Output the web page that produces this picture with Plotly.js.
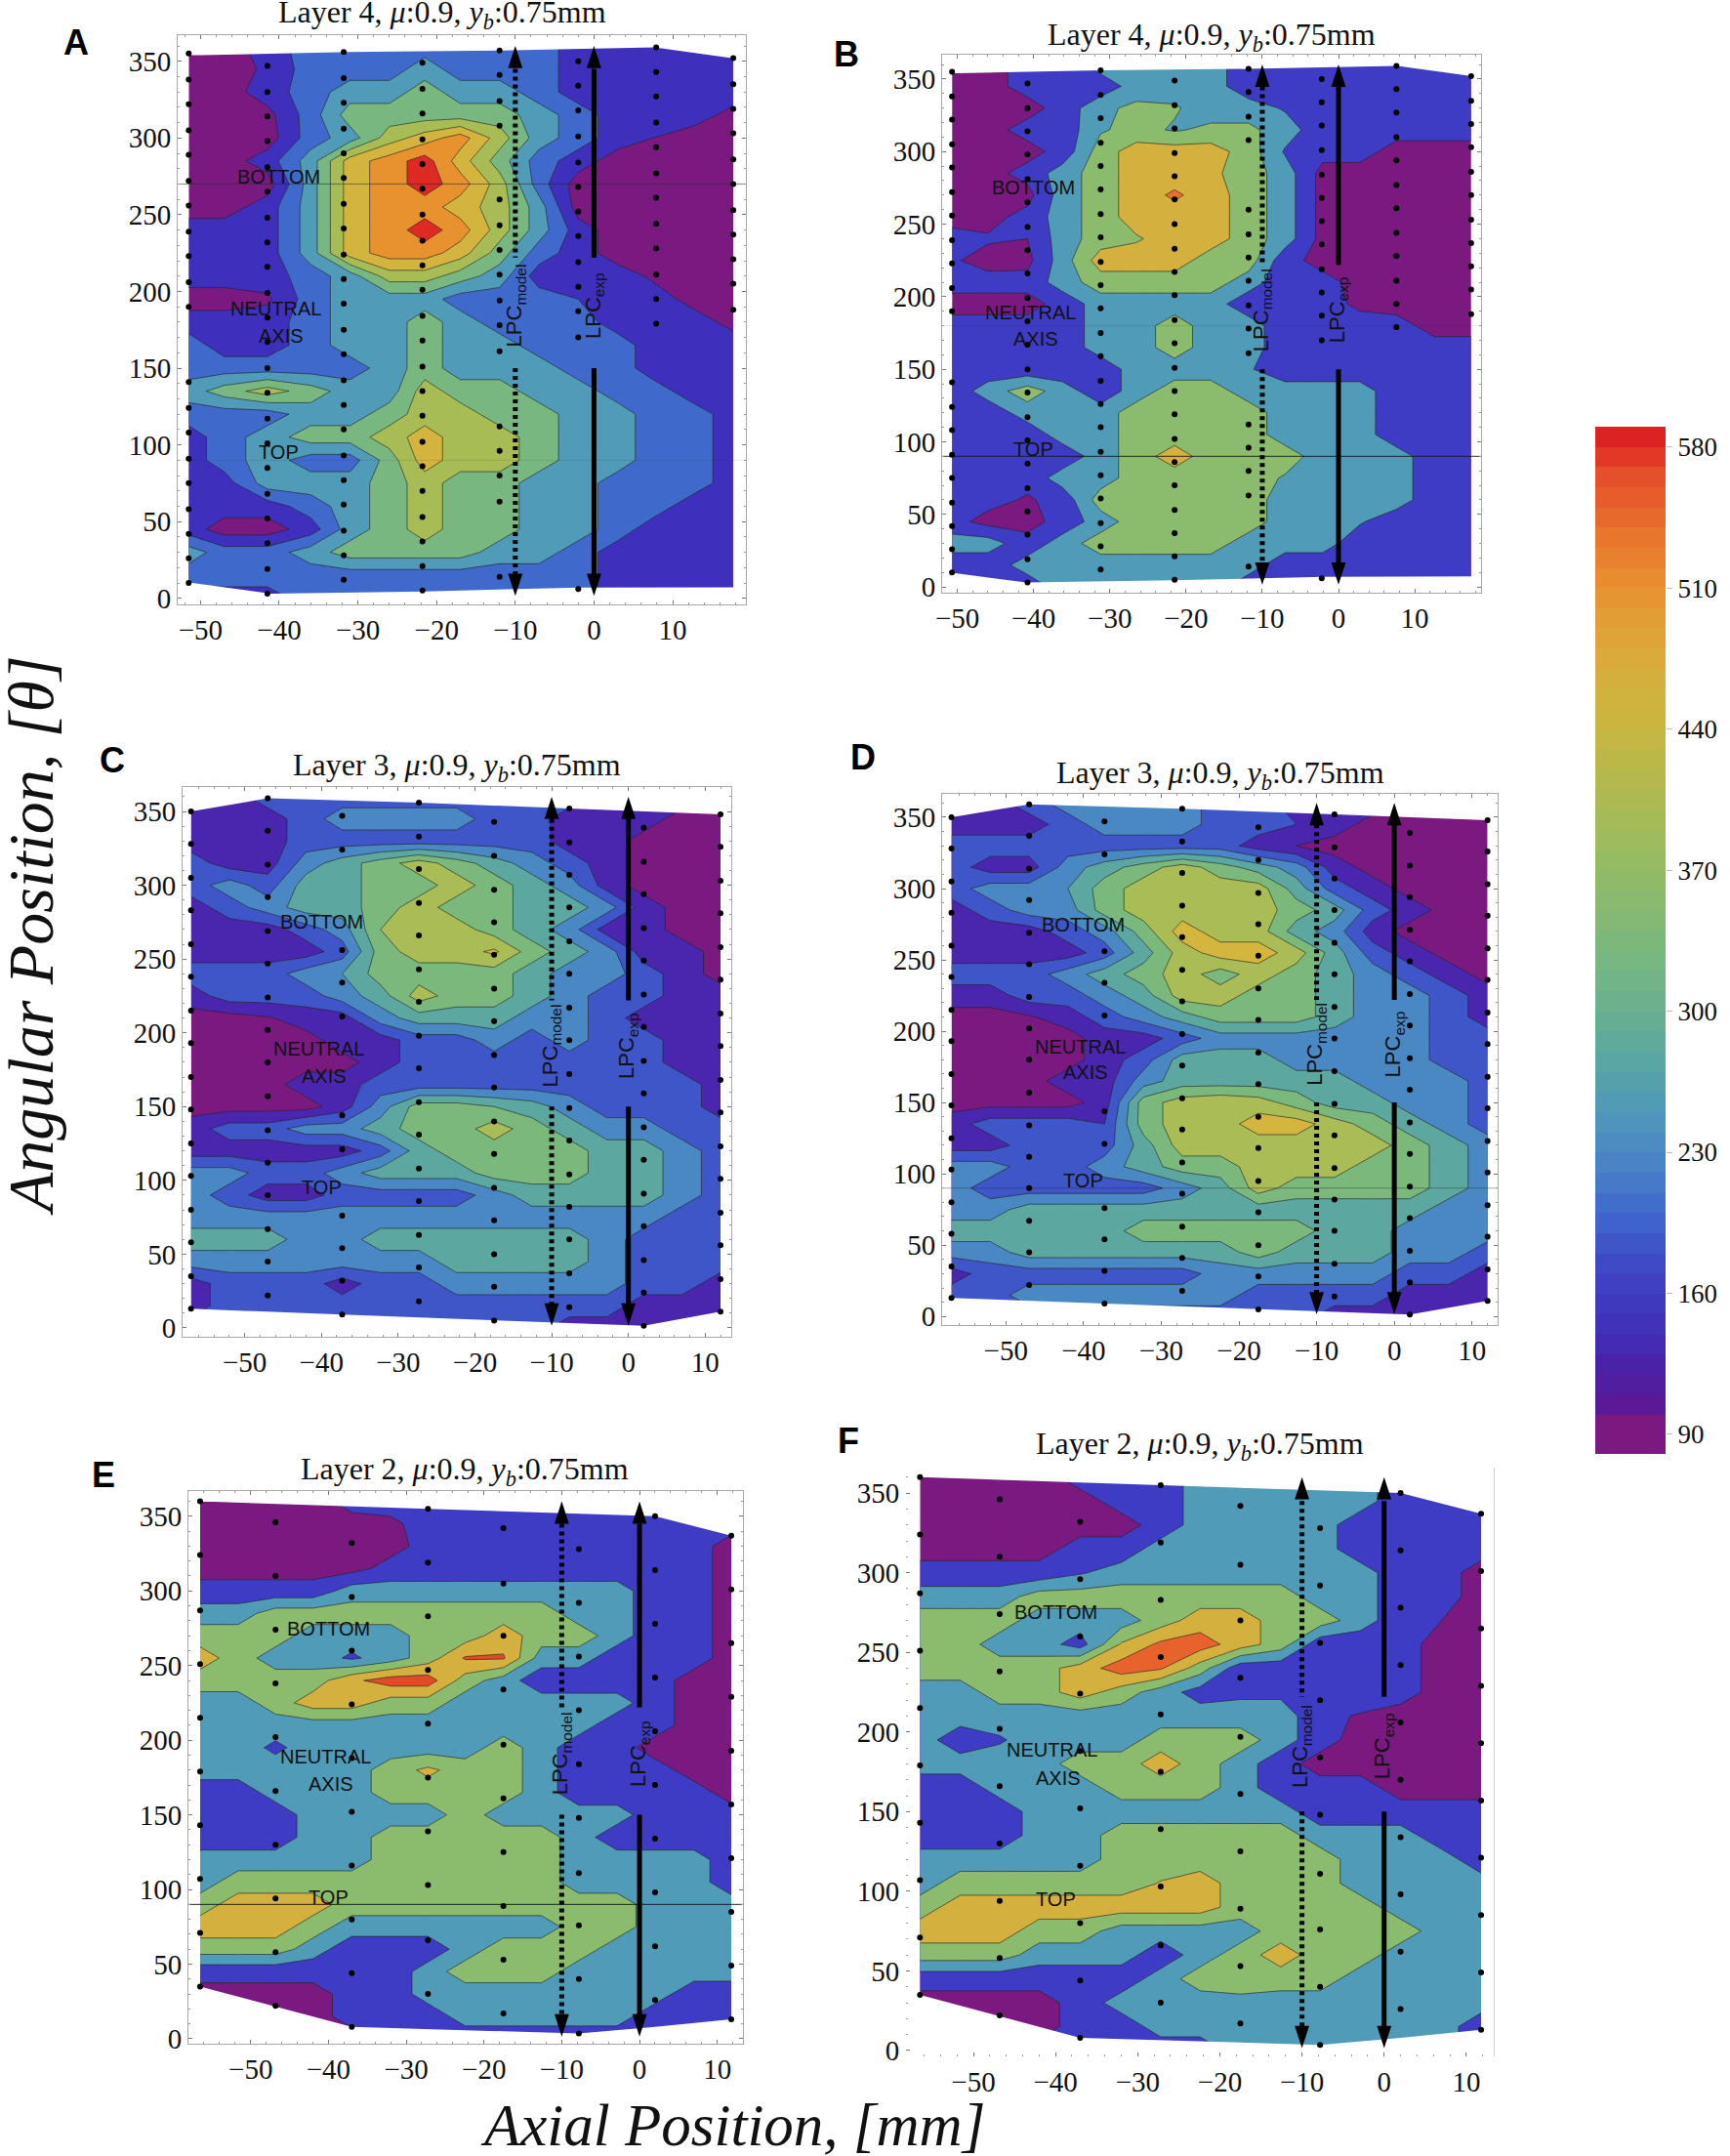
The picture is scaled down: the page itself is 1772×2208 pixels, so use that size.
<!DOCTYPE html>
<html><head><meta charset="utf-8">
<script src="https://cdn.plot.ly/plotly-3.0.1.min.js"></script>
<style>html,body{margin:0;padding:0;background:#fff}</style></head>
<body><div id="chart" style="width:1772px;height:2208px"></div>
<script>
// ---------- data ----------
const thetaRows=[360,345,330,315,300,285,270,255,240,225,210,195,180,165,150,135,120,105,90,75,60,45,30,15,0];
const xA=[-51.5,-47,-41.5,-36,-31,-26,-21.5,-17,-12,-7,-2,3,7.5,12.5,17.7];
const xB=[-50.7,-46,-40.8,-36.2,-31.2,-26.5,-21.5,-16.8,-11.8,-7,-2.1,2.8,7.6,12.6,17.4];
const xC=[-57,-52,-47,-42,-37.3,-32.3,-27.3,-22.4,-17.5,-12.6,-7.7,-2.8,2,7,12];
const xD=xC;
const xE=[-56.5,-51.6,-46.8,-42,-37,-32,-27.2,-22.4,-17.5,-12.6,-7.8,-2.9,2,7,11.8];
const xF=xE;
const zA=[
[90,90,150,210,210,210,210,210,210,210,150,150,150,150,150],
[90,90,130,210,210,210,270,210,210,210,150,150,150,150,150],
[90,90,150,210,270,270,330,270,270,210,150,150,150,150,150],
[90,90,100,210,330,330,330,330,330,270,210,150,150,150,100],
[90,90,90,210,270,390,450,510,390,270,210,150,120,90,90],
[90,90,150,270,450,510,570,450,330,210,150,90,90,90,90],
[90,90,90,270,450,510,570,510,390,210,90,90,90,90,90],
[90,90,150,270,450,510,510,450,390,270,90,90,90,90,90],
[150,150,150,270,450,510,570,510,390,270,150,90,90,90,90],
[150,150,150,270,450,510,510,450,330,210,150,90,90,90,90],
[150,150,150,210,270,390,390,330,270,150,150,150,110,90,90],
[90,90,110,210,270,270,270,210,210,210,180,150,150,100,90],
[150,150,150,210,270,270,330,270,210,210,210,150,150,150,100],
[210,150,150,210,270,270,330,270,270,210,210,210,150,150,150],
[210,210,210,210,210,270,330,270,270,270,210,210,150,150,150],
[270,330,390,330,270,270,390,330,330,270,270,210,210,150,150],
[210,210,210,270,270,330,390,390,330,330,270,270,210,210,150],
[150,210,270,330,330,390,450,390,390,330,270,270,210,210,150],
[150,210,270,210,210,330,450,390,390,330,270,270,210,210,150],
[150,150,270,270,270,330,390,330,330,270,270,210,210,210,150],
[150,150,150,210,270,330,390,330,330,270,270,210,210,150,150],
[150,90,90,150,270,330,390,330,330,270,270,210,150,150,150],
[270,210,210,270,330,330,330,330,270,270,210,150,150,150,150],
[210,210,210,210,210,210,210,210,210,210,210,150,150,150,150],
[150,150,150,210,210,210,210,210,210,210,210,150,150,150,150]];
const zB=[
[90,90,150,150,255,255,255,255,150,150,150,150,150,150,150],
[90,90,150,150,150,255,255,255,150,150,150,150,150,150,150],
[90,90,90,150,280,320,310,255,255,200,150,150,150,150,150],
[90,90,150,150,290,330,290,320,320,255,150,150,150,150,150],
[90,90,90,150,345,435,435,435,345,200,150,150,90,90,90],
[90,90,150,255,345,435,435,410,345,255,90,90,90,90,90],
[90,90,90,255,345,435,495,435,345,255,90,90,90,90,90],
[90,90,150,255,345,435,435,435,345,255,90,90,90,90,90],
[150,130,120,255,345,380,435,435,345,255,90,90,90,90,90],
[130,90,95,255,435,435,435,345,345,150,90,90,90,90,90],
[150,150,150,255,345,345,345,345,255,150,150,90,90,90,90],
[90,90,90,150,255,255,255,255,150,150,150,105,90,90,90],
[150,150,150,150,255,255,345,255,255,150,150,150,150,90,90],
[150,150,150,150,255,255,345,255,255,150,150,150,150,150,150],
[150,150,150,150,150,255,255,255,220,150,150,150,150,150,150],
[150,255,345,255,150,255,345,345,255,255,255,255,150,150,150],
[150,150,255,255,255,345,345,345,345,255,255,255,150,150,150],
[150,150,150,255,255,345,345,345,345,255,255,255,150,150,150],
[150,150,150,150,255,345,435,345,345,345,255,255,255,150,150],
[150,150,150,255,255,345,345,345,345,290,255,255,255,150,150],
[150,150,110,150,345,345,345,345,345,255,255,255,255,150,150],
[150,90,90,150,255,345,345,345,345,255,255,220,150,150,150],
[255,255,150,255,345,345,345,345,255,255,255,150,150,150,150],
[150,150,255,255,255,255,255,255,255,150,150,150,150,150,150],
[150,150,150,255,255,255,255,255,150,150,150,150,150,150,150]];
const zC=[
[135,135,185,185,185,185,185,185,185,185,185,135,135,135,90],
[135,135,135,185,235,235,235,235,185,185,135,135,135,90,90],
[135,135,135,185,185,185,185,185,185,185,135,135,90,90,90],
[185,135,135,235,285,335,385,335,285,235,185,135,90,90,90],
[185,235,185,285,285,335,335,385,335,285,235,135,90,90,90],
[135,185,235,285,285,335,385,335,335,285,285,235,135,90,90],
[135,135,135,185,235,360,385,385,335,285,235,135,135,90,90],
[135,135,135,135,185,335,385,385,420,335,285,235,135,135,90],
[185,185,185,235,260,335,335,335,335,285,235,235,185,135,90],
[135,185,185,185,235,285,385,335,335,285,235,185,185,135,135],
[90,90,105,135,135,235,285,285,285,235,235,185,135,135,135],
[90,90,90,90,135,135,185,185,235,185,235,185,185,135,135],
[90,90,90,90,90,135,185,185,185,185,185,185,185,135,135],
[90,90,90,135,135,185,185,185,185,185,185,185,185,185,135],
[90,90,90,90,135,235,335,335,310,285,235,185,185,185,135],
[135,185,185,235,235,285,335,335,385,335,285,235,235,185,185],
[135,135,135,135,135,185,285,335,335,335,335,285,285,235,185],
[235,235,185,185,235,285,285,285,335,335,335,285,285,235,185],
[235,185,135,135,185,185,185,185,235,285,285,285,285,235,185],
[235,235,235,235,235,235,235,235,235,235,235,235,235,185,185],
[285,285,285,235,235,285,285,285,285,285,285,235,185,185,185],
[235,235,235,235,235,235,235,285,285,285,285,235,185,185,185],
[135,185,185,185,135,185,185,235,235,235,235,235,185,185,135],
[135,185,185,185,185,185,185,185,185,185,185,185,135,135,135],
[185,185,185,185,185,185,185,185,185,185,135,135,135,135,135]];
const zD=[
[135,135,185,235,235,235,235,185,185,135,135,135,135,90,90],
[135,135,135,185,235,235,235,185,185,160,135,90,90,90,90],
[185,185,185,185,185,185,185,185,135,110,90,90,90,90,90],
[185,135,135,235,285,335,385,335,285,235,135,90,90,90,90],
[185,235,235,260,335,385,385,385,385,285,185,135,90,90,90],
[135,185,235,235,335,385,385,385,385,335,285,185,135,90,90],
[135,135,135,185,235,335,435,385,385,285,235,135,90,90,90],
[135,135,135,135,185,285,385,435,435,385,285,185,135,90,90],
[185,185,185,235,285,335,385,335,385,335,285,235,185,135,90],
[135,135,185,185,235,285,385,385,335,335,285,235,235,185,135],
[90,90,105,135,185,235,285,335,335,335,285,235,235,185,135],
[90,90,90,90,135,135,185,235,235,235,235,235,235,185,185],
[90,90,90,90,135,185,285,285,285,235,235,235,235,185,185],
[90,90,90,135,135,235,285,285,285,285,285,235,235,235,185],
[90,90,90,90,135,335,385,400,385,335,285,285,235,235,185],
[135,185,185,185,160,335,385,385,435,435,385,335,285,235,185],
[135,135,185,185,185,285,385,385,385,385,385,385,335,285,235],
[235,235,185,185,235,285,335,335,385,385,385,335,335,285,235],
[235,185,185,185,185,185,235,285,385,335,335,335,335,285,235],
[235,235,285,285,285,285,285,285,285,285,285,285,285,235,235],
[285,285,285,285,285,335,335,335,335,335,285,285,235,235,235],
[235,235,285,285,285,285,285,285,335,285,285,285,235,235,185],
[135,185,185,185,185,185,185,235,235,235,235,235,185,185,135],
[185,185,235,235,235,235,235,235,185,185,185,185,135,135,135],
[185,185,185,185,185,185,185,185,185,185,135,135,135,135,135]];
const zE=[
[90,90,90,90,150,150,150,150,150,150,150,150,150,150,150],
[90,90,90,90,90,105,150,150,150,150,150,150,150,150,150],
[90,90,90,90,90,90,150,150,150,150,150,150,150,150,90],
[90,90,90,90,90,150,150,150,150,150,150,150,150,150,90],
[150,150,150,150,255,255,255,255,255,255,255,255,150,150,90],
[255,255,345,345,345,345,345,345,345,345,255,255,150,150,90],
[345,345,345,255,255,255,345,345,435,345,345,255,150,150,90],
[435,345,255,255,195,255,345,490,490,255,255,150,150,150,90],
[345,345,345,345,460,525,525,345,255,150,150,150,150,90,90],
[255,255,345,435,435,345,345,255,255,255,255,255,150,90,90],
[255,255,255,255,255,255,255,255,255,255,255,150,150,90,90],
[255,255,190,255,255,255,255,255,345,255,150,150,90,90,90],
[255,255,255,255,255,345,410,345,345,255,150,150,150,90,90],
[150,150,255,255,255,345,345,345,345,255,150,150,150,150,90],
[150,150,150,255,255,255,255,345,255,255,255,255,150,150,150],
[150,150,150,255,255,345,345,345,345,345,255,150,150,150,150],
[255,255,255,255,255,345,345,345,345,345,255,255,255,255,150],
[255,345,345,345,345,345,345,345,345,345,255,255,255,255,150],
[345,435,435,435,345,345,345,345,345,345,345,345,255,255,255],
[435,435,435,345,255,255,255,255,255,255,345,345,255,255,255],
[345,345,345,255,150,150,150,255,345,345,345,255,255,255,255],
[150,150,150,150,150,150,255,345,345,345,255,255,255,255,255],
[90,90,90,90,150,150,255,255,255,255,255,255,255,150,150],
[90,90,90,90,150,150,150,255,255,255,255,255,150,150,150],
[90,90,90,90,90,150,150,150,150,150,150,150,150,150,150]];
const zF=[
[90,90,90,90,150,150,150,255,255,255,255,255,150,150,150],
[90,90,90,90,90,150,150,255,255,255,255,255,150,150,150],
[90,90,90,90,90,90,150,255,255,255,255,150,150,150,150],
[90,90,90,90,150,150,255,255,255,255,255,150,150,150,150],
[150,150,150,150,200,255,255,255,255,255,255,255,150,150,90],
[255,255,255,345,345,345,345,345,345,345,255,255,150,150,90],
[345,345,345,255,255,255,345,435,435,345,345,255,150,120,90],
[345,345,255,255,170,400,500,525,435,345,150,150,150,90,90],
[345,345,345,345,435,525,490,345,150,150,150,150,150,90,90],
[255,255,345,345,435,345,255,170,190,190,190,190,150,90,90],
[255,255,255,255,255,255,255,255,255,255,150,110,90,90,90],
[255,150,200,255,255,255,345,345,345,255,150,90,90,90,90],
[255,255,255,255,345,345,435,345,255,150,90,90,90,90,90],
[150,150,255,255,255,345,345,345,255,150,150,150,90,90,90],
[150,150,150,255,255,255,255,255,255,255,150,150,150,150,150],
[150,150,150,255,255,345,345,345,345,345,255,255,255,150,150],
[255,255,255,255,255,345,345,345,345,345,345,255,255,255,150],
[255,345,345,345,345,345,395,435,345,345,345,255,255,255,255],
[345,435,435,435,435,435,435,435,345,345,345,345,255,255,255],
[435,435,435,345,345,255,255,255,255,345,345,345,345,255,255],
[345,345,345,255,255,255,150,255,345,435,345,345,255,255,255],
[150,150,150,150,150,150,255,345,380,345,345,255,255,255,255],
[90,90,90,90,150,255,255,255,255,255,255,255,255,255,255],
[90,90,90,90,150,150,255,255,255,255,255,255,255,255,150],
[90,90,90,150,150,150,150,150,255,255,255,255,255,255,150]];
// measurement points: one theta list per axial column
const dotsLayer4=[
[355,338,322,305,289,272,256,239,223,206,190,141,124,108,91,75,58,42,26,10],
[347,330,314,298,281,265,248,232,216,199,183,167,150,134,117,101,85,68,52,36,19,3],
[356,339,323,306,290,274,257,241,224,208,192,175,159,142,126,110,93,77,61,44,28,12],
[349,332,316,299,283,267,250,233,217,201,184,168,151,135,119,102,86,70,53,37,21,5],
[357,341,324,308,260,243,227,211,194,178,161,112,96,80,63,14],
[350,334,318,301,284,268,252,236,219,203,187,170,6],
[359,343,327,310,294,277,261,244,228,211,195,179],
[352,335,319,303,286,270,253,237,221,205,188]];
const dotsLayer3=[
[350,328,305,283,260,238,215,193,170,148,125,103,80,58,35,13],
[359,337,314,292,269,247,224,202,180,157,134,112,90,67,45,22],
[347,324,256,234,211,144,121,76,54,32,9],
[356,333,311,288,266,243,221,198,176,153,131,108,86,63,41,18],
[343,320,297,275,253,230,208,185,163,140,118,95,73,50,28,5],
[352,329,307,285,262,240,217,195,172,149,127,104,82,60,37,14],
[339,316,294,271,249,226,204,181,159,136,114,91,69,46,24,1.4],
[348,326,303,281,258,236,213,191,168,146,123,101,78,56,33,11]];
const dotsLayer2=[
[360,324,287,251,215,179,143,107,71,35],
[346,310,274,238,202,166,130,94,58,22],
[332,296,260,224,188,152,116,80,44,8],
[355,319,283,247,211,175,139,103,66,30],
[342,305,270,234,197,161,125,89,53,17],
[328,292,256,220,184,148,111,76,40,3.5],
[350,314,278,242,206,170,134,98,62,26],
[337,301,265,229,193,157,121,85,49,13]];
const dotColsA=[-51.5,-41.5,-31.8,-21.8,-12,-2,7.9,17.7];
const dotColsB=[-50.7,-40.8,-31.2,-21.5,-11.8,-2.2,7.6,17.4];
const dotColsC=[-57,-47,-37.3,-27.3,-17.5,-7.7,2,12];
const dotColsD=dotColsC;
const dotColsE=[-56.5,-46.8,-37,-27.2,-17.5,-7.8,2,11.8];
const dotColsF=dotColsE;
// outline of the sampled area
const hull4={topX:[-100,-50,-31,-12,7.7,17.5,100],topY:[354,354,356,357,359,352,352],botX:[-100,-51,-41,-21.6,-2,17.5,100],botY:[10,10,3,4.5,7,8,8]};
const hull3={topX:[-100,-57,-47,-27.3,-7.7,12,100],topY:[350,350,359,356,352,348,348],botX:[-100,-57,-37.3,-17.5,2,12,100],botY:[13,13,9,5,1.4,11,11]};
const hull2={topX:[-100,-56.5,-27.2,2,11.8,100],topY:[360,360,355,350,337,337],botX:[-100,-56.5,-37,-7.8,2,11.8,100],botY:[35,35,8,3.5,8,13,13]};
// colour bands of each panel, low to high
const bandsA=['#7a1a80','#3f2fbd','#3f6acc','#4f9bb8','#78b880','#a8bc55','#d3b43e','#e8912f','#dd2a22'];
const bandsB=['#7a1a80','#3e3cc4','#4f9bb8','#8bbb6c','#d4b03e','#e8702c'];
const bandsC=['#7a1a80','#4a26ae','#3e56c8','#4a88c4','#5ca8a0','#7ab87c','#a9bc55','#d4b53e'];
const bandsE=['#7a1a80','#3e3cc4','#4f9bb8','#8bbb6c','#d4b03e','#e24a28'];
const bandsF=['#7a1a80','#3e3cc4','#4f9bb8','#8bbb6c','#d4b03e','#e8622c'];
// colour bar
const barValues=[85,95,105,115,125,135,145,155,165,175,185,195,205,215,225,235,245,255,265,275,285,295,305,315,325,335,345,355,365,375,385,395,405,415,425,435,445,455,465,475,485,495,505,515,525,535,545,555,565,575,585];
const barTicks=[90,160,230,300,370,440,510,580];
const barStops=[[85,'#7a1a80'],[100,'#7a1a80'],[105,'#5a1a98'],[125,'#4a22a8'],[140,'#4030b8'],[160,'#3f3cc0'],[180,'#3f50c8'],[200,'#4068cc'],[225,'#4a84c6'],[250,'#5098b8'],[275,'#5aa6a4'],[300,'#68b090'],[330,'#7ab87e'],[370,'#92bb66'],[400,'#a9bb55'],[440,'#c8b640'],[470,'#d8ae3c'],[500,'#e59a34'],[515,'#e88c30'],[540,'#e8702c'],[565,'#e4502a'],[585,'#dd2222']];
const lpcExpTop=[345,222],lpcExpBottom=[150,15];
const lpcTips=[360,1.5];
const axisXTicks=[-50,-40,-30,-20,-10,0,10];
// ---------- panels ----------
const W=1772,H=2208;
const panels=[
{k:'A',x:xA,z:zA,dx:dotColsA,dots:dotsLayer4,hull:hull4,bands:bandsA,lv:[120,540,60],box:[182,764,36,619],xr:[-52.9,19.3],yr:[-4,367],title:'Layer 4',tp:[453,15],lp:[78,43],hl:[[270,'rgba(40,40,40,.55)'],[90,'rgba(40,40,40,.12)']]},
{k:'B',x:xB,z:zB,dx:dotColsB,dots:dotsLayer4,hull:hull4,bands:bandsB,lv:[120,480,90],box:[965,1517,56,607],xr:[-52,18.7],yr:[-4,366.8],title:'Layer 4',tp:[1241,37],lp:[867,55],hl:[[90,'rgba(20,20,20,.85)'],[180,'rgba(40,40,40,.12)']]},
{k:'C',x:xC,z:zC,dx:dotColsC,dots:dotsLayer3,hull:hull3,bands:bandsC,lv:[110,410,50],box:[187,749,806,1369],xr:[-58.1,13.4],yr:[-6,366.6],title:'Layer 3',tp:[468,785],lp:[115,779],hl:[]},
{k:'D',x:xD,z:zD,dx:dotColsD,dots:dotsLayer3,hull:hull3,bands:bandsC,lv:[110,410,50],box:[965,1534,813,1357],xr:[-58.2,13.3],yr:[-6,366.4],title:'Layer 3',tp:[1250,793],lp:[884,775],hl:[[90,'rgba(40,40,40,.4)']]},
{k:'E',x:xE,z:zE,dx:dotColsE,dots:dotsLayer2,hull:hull2,bands:bandsE,lv:[120,480,90],box:[193,761,1527,2093],xr:[-58,13.3],yr:[-3.3,366.9],title:'Layer 2',tp:[476,1506],lp:[106,1510],hl:[[90,'rgba(20,20,20,.9)']]},
{k:'F',x:xF,z:zF,dx:dotColsF,dots:dotsLayer2,hull:hull2,bands:bandsF,lv:[120,480,90],box:[928,1530.5,1503,2106],xr:[-58.2,13.4],yr:[-3.7,366],title:'Layer 2',tp:[1229,1480],lp:[869,1475],hl:[],noFrame:true}
];
const traces=[],ann=[],layout={width:W,height:H,margin:{l:0,r:0,t:0,b:0},paper_bgcolor:'#fff',plot_bgcolor:'#fff',showlegend:false,hovermode:false,autosize:false};
const serif='"Liberation Serif",serif',sans='"Liberation Sans",sans-serif';
const centre={xanchor:'center',yanchor:'middle',showarrow:false};
panels.forEach((p,i)=>{
  const n=i?String(i+1):'',xa='x'+n,ya='y'+n;
  const frame=p.noFrame?'#ffffff':'#a8a8a8';
  layout['xaxis'+n]={domain:[p.box[0]/W,p.box[1]/W],range:p.xr,anchor:ya,tickmode:'array',tickvals:axisXTicks,ticks:'inside',ticklen:4,tickcolor:'#777',showline:true,linecolor:frame,linewidth:1,mirror:p.noFrame?false:'ticks',showgrid:false,zeroline:false,tickfont:{family:serif,size:29,color:'#111'},minor:{tickmode:'array',tickvals:[-56,-54,-52,-48,-46,-44,-42,-38,-36,-34,-32,-28,-26,-24,-22,-18,-16,-14,-12,-8,-6,-4,-2,2,4,6,8,12,14,16,18],ticks:'inside',ticklen:2,tickcolor:'#999'},ticklabelstandoff:0};
  layout['yaxis'+n]={domain:[1-p.box[3]/H,1-p.box[2]/H],range:p.yr,anchor:xa,tickmode:'array',tickvals:[0,50,100,150,200,250,300,350],ticks:'inside',ticklen:4,tickcolor:'#777',showline:true,linecolor:frame,linewidth:1,mirror:p.noFrame?false:'ticks',showgrid:false,zeroline:false,tickfont:{family:serif,size:29,color:'#111'},minor:{tickmode:'array',tickvals:[10,20,30,40,60,70,80,90,110,120,130,140,160,170,180,190,210,220,230,240,260,270,280,290,310,320,330,340,360],ticks:'inside',ticklen:2,tickcolor:'#999'},ticklabelstandoff:0};
  const nb=p.bands.length-1;
  traces.push({type:'contour',x:p.x,y:thetaRows.slice().reverse(),z:p.z.slice().reverse(),xaxis:xa,yaxis:ya,autocontour:false,
    contours:{start:p.lv[0],end:p.lv[1],size:p.lv[2],coloring:'fill',showlines:true},
    colorscale:p.bands.map((c,j)=>[j/nb,c]),showscale:false,line:{color:'rgba(35,35,35,.8)',width:0.8,smoothing:0},hoverinfo:'skip'});
  // white outside the sampled hull
  traces.push({type:'scatter',mode:'lines',x:[...p.hull.topX,100,-100],y:[...p.hull.topY,420,420],fill:'toself',fillcolor:'#fff',line:{width:0},xaxis:xa,yaxis:ya,hoverinfo:'skip'});
  traces.push({type:'scatter',mode:'lines',x:[...p.hull.botX,100,-100],y:[...p.hull.botY,-40,-40],fill:'toself',fillcolor:'#fff',line:{width:0},xaxis:xa,yaxis:ya,hoverinfo:'skip'});
  p.hl.forEach(h=>traces.push({type:'scatter',mode:'lines',x:p.xr,y:[h[0],h[0]],line:{color:h[1],width:1},xaxis:xa,yaxis:ya,hoverinfo:'skip'}));
  const dx=[],dy=[];p.dots.forEach((col,j)=>col.forEach(v=>{dx.push(p.dx[j]);dy.push(v)}));
  traces.push({type:'scatter',mode:'markers',x:dx,y:dy,marker:{color:'#000',size:6},xaxis:xa,yaxis:ya,hoverinfo:'skip'});
  // LPC lines and arrow heads
  [[0,'solid'],[-10,'4px,4px']].forEach(l=>{
    [lpcExpTop,lpcExpBottom].forEach(seg=>traces.push({type:'scatter',mode:'lines',x:[l[0],l[0]],y:seg,line:{color:'#000',width:5,dash:l[1]},xaxis:xa,yaxis:ya,hoverinfo:'skip'}));
    traces.push({type:'scatter',mode:'markers',x:[l[0],l[0]],y:lpcTips,marker:{symbol:'arrow',angle:[0,180],size:24,color:'#000',line:{width:0}},xaxis:xa,yaxis:ya,hoverinfo:'skip'});
  });
  ann.push({...centre,xref:xa,yref:ya,x:-10,y:191,text:'LPC<sub>model</sub>',textangle:-90,font:{family:sans,size:22,color:'#111'}});
  ann.push({...centre,xref:xa,yref:ya,x:0,y:191,text:'LPC<sub>exp</sub>',textangle:-90,font:{family:sans,size:22,color:'#111'}});
  [['BOTTOM',-40,275],['NEUTRAL',-40.4,189],['AXIS',-39.7,171],['TOP',-40,95]].forEach(t=>ann.push({...centre,xref:xa,yref:ya,x:t[1],y:t[2],text:t[0],font:{family:sans,size:20,color:'#111'}}));
  ann.push({...centre,xref:'paper',yref:'paper',x:p.tp[0]/W,y:1-p.tp[1]/H,text:p.title+', <i>μ</i>:0.9, <i>y<sub>b</sub></i>:0.75mm',font:{family:serif,size:32,color:'#111'}});
  ann.push({...centre,xref:'paper',yref:'paper',x:p.lp[0]/W,y:1-p.lp[1]/H,text:'<b>'+p.k+'</b>',font:{family:sans,size:36,color:'#000'}});
});
// F keeps only a right-hand frame line
layout.shapes=[{type:'line',xref:'x6',yref:'y6',x0:13.4,x1:13.4,y0:-3.7,y1:366,line:{color:'#a8a8a8',width:1}}];
// colour bar
traces.push({type:'heatmap',x:[0,1],y:barValues,z:barValues.map(v=>[v,v]),zmin:85,zmax:585,showscale:false,zsmooth:false,xaxis:'x7',yaxis:'y7',hoverinfo:'skip',
  colorscale:barStops.map(s=>[(s[0]-85)/500,s[1]])});
layout.xaxis7={domain:[1634/W,1706/W],range:[-0.5,1.5],anchor:'y7',visible:false,fixedrange:true};
layout.yaxis7={domain:[1-1489/H,1-437/H],range:[80.3,590],anchor:'x7',side:'right',tickmode:'array',tickvals:barTicks,ticks:'outside',ticklen:6,tickcolor:'#bbb',showline:false,showgrid:false,zeroline:false,tickfont:{family:serif,size:27,color:'#111'}};
ann.push({...centre,xref:'paper',yref:'paper',x:31/W,y:1-958/H,text:'<i>Angular Position, [θ]</i>',textangle:-90,font:{family:serif,size:66,color:'#111'}});
ann.push({...centre,xref:'paper',yref:'paper',x:750/W,y:1-2176/H,text:'<i>Axial Position, [mm]</i>',font:{family:serif,size:61,color:'#111'}});
layout.annotations=ann;
Plotly.newPlot('chart',traces,layout,{staticPlot:true,displayModeBar:false});
</script></body></html>
